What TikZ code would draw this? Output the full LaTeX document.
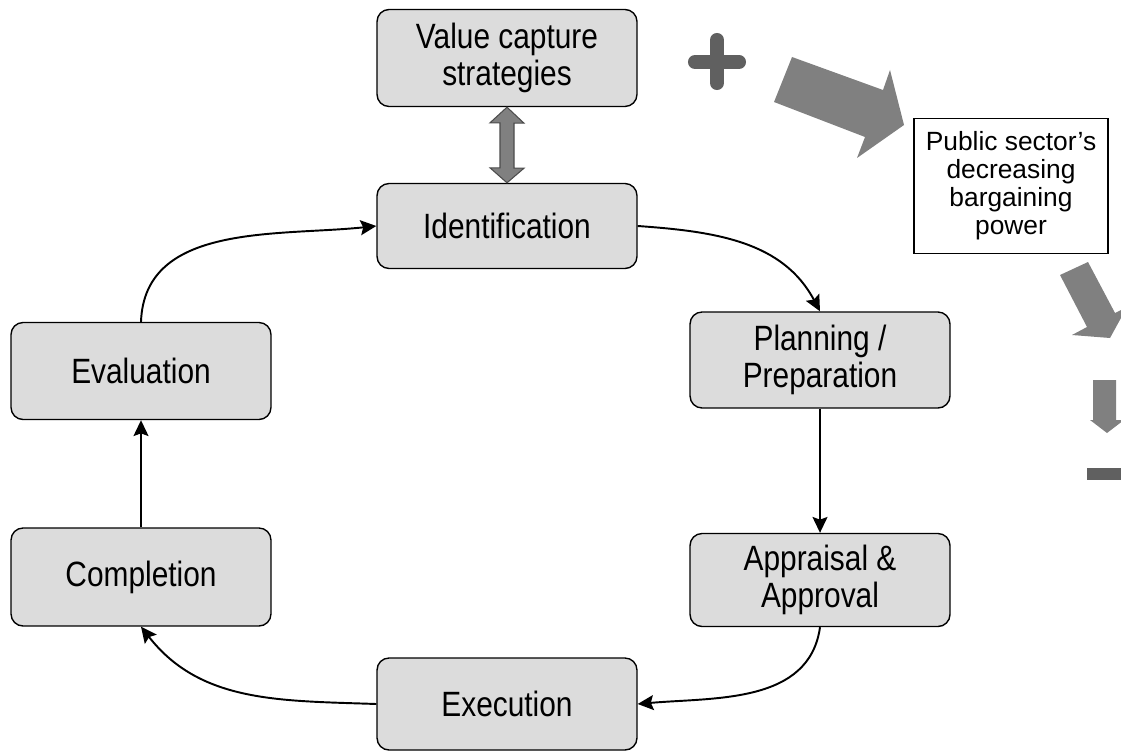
\documentclass[tikz,border=0pt]{standalone}
\usepackage{fontspec}
\setmainfont{Liberation Sans}
\newfontfamily\stagefont{Liberation Sans}[FakeStretch=0.85]
\usetikzlibrary{positioning,arrows.meta}

\definecolor{boxgray}{HTML}{DCDCDC}
\definecolor{arrowgray}{HTML}{808080}
\definecolor{signgray}{HTML}{606060}

\begin{document}
\begin{tikzpicture}[x=0.02cm,y=-0.02cm,>=Stealth,
	stage/.style={draw,line width=0.8pt,fill=boxgray,rounded corners=0.24cm,
		minimum width=5.2cm,align=center,inner sep=0pt,
		font=\stagefont\fontsize{20}{21.5}\selectfont},
	flow/.style={->,line width=1.1pt,>={Stealth[length=9pt,width=8.5pt,inset=1.5pt]}},
	bigarrow/.style={fill=arrowgray,draw=none}
	]
	\useasboundingbox (0,0) rectangle (1121,753);

	% project cycle
	\node[stage,minimum height=1.94cm] (vcs) at (507,58) {Value capture\\strategies};
	\node[stage,minimum height=1.7cm] (ident) at (507,226) {Identification};
	\node[stage,minimum height=1.92cm] (plan) at (820,360) {Planning /\\Preparation};
	\node[stage,minimum height=1.86cm] (apprv) at (820,580) {Appraisal \&\\Approval};
	\node[stage,minimum height=1.84cm] (exec) at (507,704) {Execution};
	\node[stage,minimum height=1.96cm] (compl) at (141,577) {Completion};
	\node[stage,minimum height=1.94cm] (evalu) at (141,371) {Evaluation};

	\node[draw,fill=white,line width=0.8pt,minimum width=3.88cm,minimum height=2.7cm,
		align=center,inner sep=0pt,font=\fontsize{15}{16}\selectfont]
		(power) at (1011,186) {Public sector’s\\decreasing\\bargaining\\power};

	\draw[flow] (ident.east) to[out=-4,in=118] (plan.north);
	\draw[flow] (plan) -- (apprv);
	\draw[flow] (apprv.south) to[out=-98,in=5] (exec.east);
	\draw[flow] (exec.west) to[out=178,in=-52] (compl.south);
	\draw[flow] (compl) -- (evalu);
	\draw[flow] (evalu.north) to[out=88,in=186] (ident.west);

	% link to value capture
	\draw[fill=arrowgray,draw=black!70,line width=0.6pt] (vcs.south) -- ++(17,16) -- ++(-10,0)
		-- ++(0,45) -- ++(10,0) -- (ident.north) -- ++(-17,-15) -- ++(10,0)
		-- ++(0,-45) -- ++(-10,0) -- cycle;

	% plus and minus
	\draw[signgray,line width=8pt,line cap=round] (695,62) -- (739,62);
	\draw[signgray,line width=8pt,line cap=round] (717,40) -- (717,83);
	\fill[signgray] (1087,468) rectangle (1125,480);

	% grey block arrows
	\path[bigarrow] (792,57) -- (883,90) -- (890,70) -- (904,125) -- (857,158)
		-- (865,137) -- (774,102) -- cycle;
	\path[bigarrow] (1060,275) -- (1088,262) -- (1115,313) -- (1127,307) -- (1110,338)
		-- (1072,335) -- (1087,327) -- cycle;
	\path[bigarrow] (1093,380) -- (1116,380) -- (1116,420) -- (1124,420) -- (1107,433)
		-- (1090,420) -- (1093,420) -- cycle;

\end{tikzpicture}
\end{document}
